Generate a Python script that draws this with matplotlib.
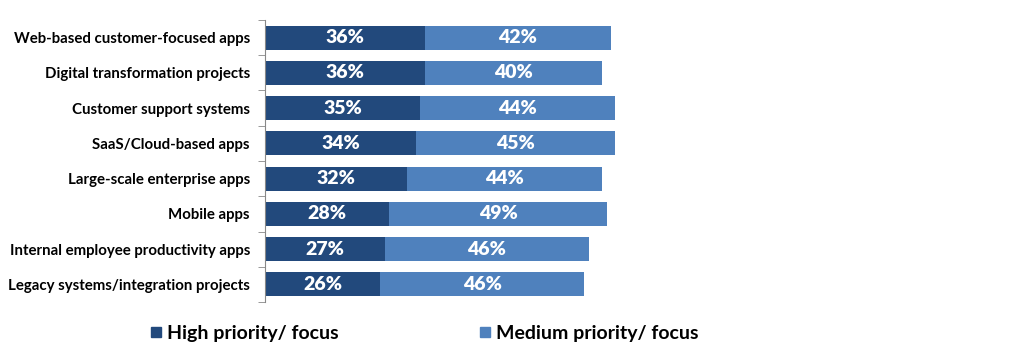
import matplotlib.pyplot as plt
from matplotlib.lines import Line2D

plt.rcParams['font.family'] = ['Lato', 'DejaVu Sans']

categories = ['Web-based customer-focused apps', 'Digital transformation projects',
              'Customer support systems', 'SaaS/Cloud-based apps',
              'Large-scale enterprise apps', 'Mobile apps',
              'Internal employee productivity apps', 'Legacy systems/integration projects']
high = [36, 36, 35, 34, 32, 28, 27, 26]
medium = [42, 40, 44, 45, 44, 49, 46, 46]
series_names = ['High priority/ focus', 'Medium priority/ focus']

dark = '#22497c'
light = '#4f81bd'

fig = plt.figure(figsize=(10.24, 3.57), dpi=100)
ax = fig.add_axes([0.259, 0.154, 0.433, 0.79])

y = list(range(len(categories)))[::-1]
ax.barh(y, high, height=0.68, color=dark)
ax.barh(y, medium, left=high, height=0.68, color=light)

for yi, h, m in zip(y, high, medium):
    ax.text(h / 2, yi, f'{h}%', ha='center', va='center', color='white',
            fontsize=14, fontweight='heavy')
    ax.text(h + m / 2, yi, f'{m}%', ha='center', va='center', color='white',
            fontsize=14, fontweight='heavy')

ax.set_xlim(0, 100)
ax.set_ylim(-0.5, len(categories) - 0.5)
ax.set_yticks(y)
ax.set_yticklabels(categories, fontsize=10.8, fontweight='bold')
ax.tick_params(axis='y', which='major', length=0, pad=11)
ax.set_yticks([i - 0.5 for i in range(len(categories) + 1)], minor=True)
ax.tick_params(axis='y', which='minor', length=5, color='#888888')
ax.set_xticks([])
for pos in ['right', 'top', 'bottom']:
    ax.spines[pos].set_visible(False)
ax.spines['left'].set_color('#888888')

# legend markers are small squares sitting close to the text
handles = [Line2D([], [], marker='s', linestyle='', color=c, markersize=7.5)
           for c in (dark, light)]
fig.legend(handles, series_names, loc='center', bbox_to_anchor=(0.415, 0.065),
           ncol=2, frameon=False, prop={'size': 14, 'weight': 'bold'},
           handlelength=0.5, handletextpad=0.3, columnspacing=7.3)

fig.savefig('out.png', dpi=100)
